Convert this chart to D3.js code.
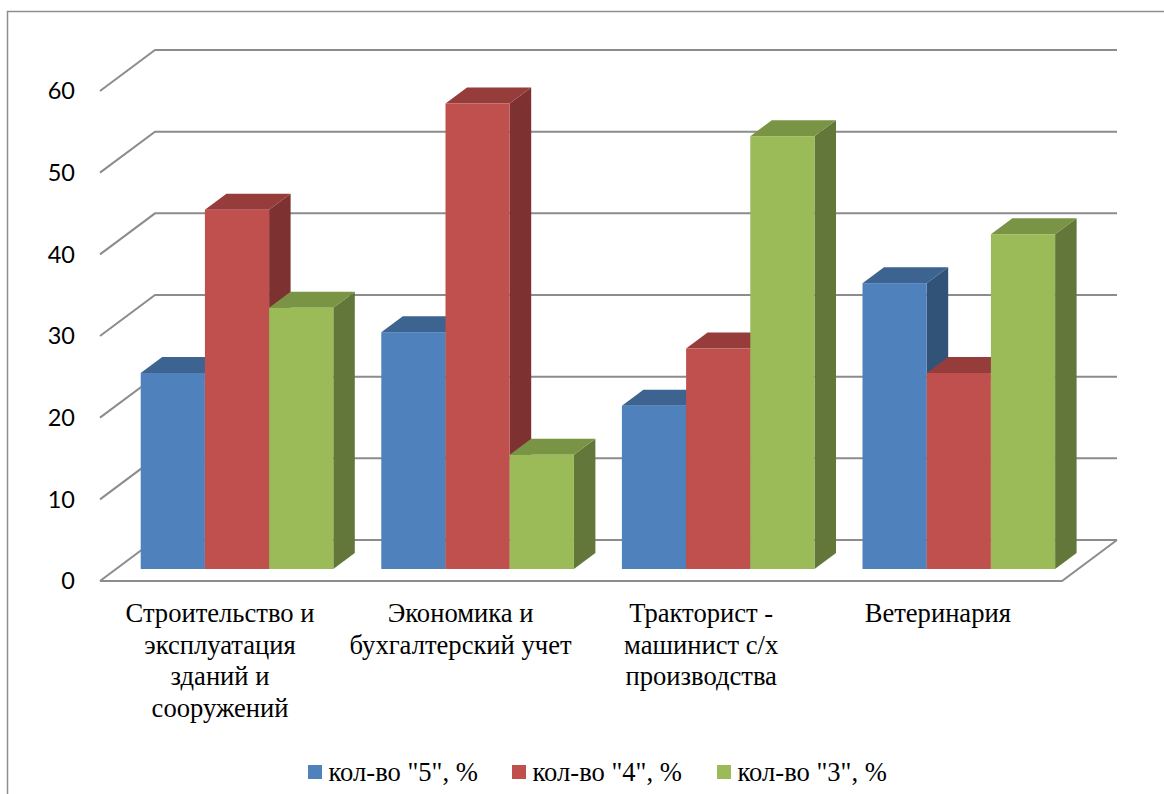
<!DOCTYPE html>
<html><head><meta charset="utf-8">
<script src="https://d3js.org/d3.v7.min.js"></script>
<style>html,body{margin:0;padding:0;background:#fff;overflow:hidden}svg{display:block}</style>
</head><body><svg id="c" width="1164" height="794"></svg>
<script>
const categories=[["Строительство и","эксплуатация","зданий и","сооружений"],["Экономика и","бухгалтерский учет"],["Тракторист -","машинист с/х","производства"],["Ветеринария"]];
const seriesNames=['кол-во "5", %','кол-во "4", %','кол-во "3", %'];
const values5=[24,29,20,35];
const values4=[44,57,27,24];
const values3=[32,14,53,41];
const yTicks=[0,10,20,30,40,50,60];
const fronts=["#4f81bd","#c0504d","#9bbb59"];
const tops=["#3d6391","#963d3b","#7a9446"];
const sides=["#325378","#7d3231","#64773a"];
const series=[values5,values4,values3];
const svg=d3.select("#c");
const grid="#8c8c8c";
svg.append("path").attr("d","M7.5,794V11.5H1164").attr("fill","none").attr("stroke","#8f8f8f").attr("stroke-width",1.5);
const dx=55,dy=-41;
const yF=d3.scaleLinear().domain([0,60]).range([581,91]);
const xF=[100,1062];
const g=svg.append("g");
yTicks.forEach(t=>{
  const y=yF(t);
  g.append("path").attr("fill","none").attr("stroke",grid).attr("stroke-width",2)
   .attr("d",`M${xF[0]},${y}L${xF[0]+dx},${y+dy}H${xF[1]+dx}`);
  g.append("text").attr("x",75).attr("y",y).attr("dy","0.36em").attr("text-anchor","end")
   .attr("font-family","Lato,sans-serif").attr("font-size",23.5).attr("fill","#000").text(t);
});
g.append("path").attr("fill","none").attr("stroke",grid).attr("stroke-width",2)
 .attr("d",`M${xF[0]},${yF(0)}H${xF[1]}L${xF[1]+dx},${yF(0)+dy}`);
const x0=d3.scaleBand().domain(d3.range(categories.length)).range([116.7,1079.1]);
const bw=64.2, bdx=21.5, bdy=-16;
const base=569, k=(yF(0)-yF(1));
const yB=v=>base-v*k;
const barStart=i=>x0(i)+x0.bandwidth()/2-bw*1.5;
categories.forEach((c,i)=>{
  series.forEach((s,j)=>{
    const x=barStart(i)+j*bw, y=yB(s[i]);
    const b=svg.append("g");
    b.append("path").attr("fill",sides[j]).attr("d",`M${x+bw},${y}l${bdx},${bdy}V${base+bdy}l${-bdx},${-bdy}Z`);
    b.append("path").attr("fill",tops[j]).attr("d",`M${x},${y}l${bdx},${bdy}h${bw}l${-bdx},${-bdy}Z`);
    b.append("rect").attr("x",x).attr("y",y).attr("width",bw).attr("height",base-y).attr("fill",fronts[j]);
  });
  const nudge=i===3?-21:-17;
  const t=svg.append("text").attr("text-anchor","middle").attr("font-family","'Liberation Serif',serif").attr("font-size",26.6).attr("fill","#000");
  c.forEach((l,n)=>t.append("tspan").attr("x",x0(i)+x0.bandwidth()/2+nudge).attr("y",622+n*31.5).text(l));
});
const lx=[308,512,717];
seriesNames.forEach((n,j)=>{
  svg.append("rect").attr("x",lx[j]).attr("y",765).attr("width",14).attr("height",14).attr("fill",fronts[j]);
  svg.append("text").attr("x",lx[j]+20.5).attr("y",781).attr("font-family","'Liberation Serif',serif").attr("font-size",26.6).attr("fill","#000").text(n);
});
</script></body></html>
